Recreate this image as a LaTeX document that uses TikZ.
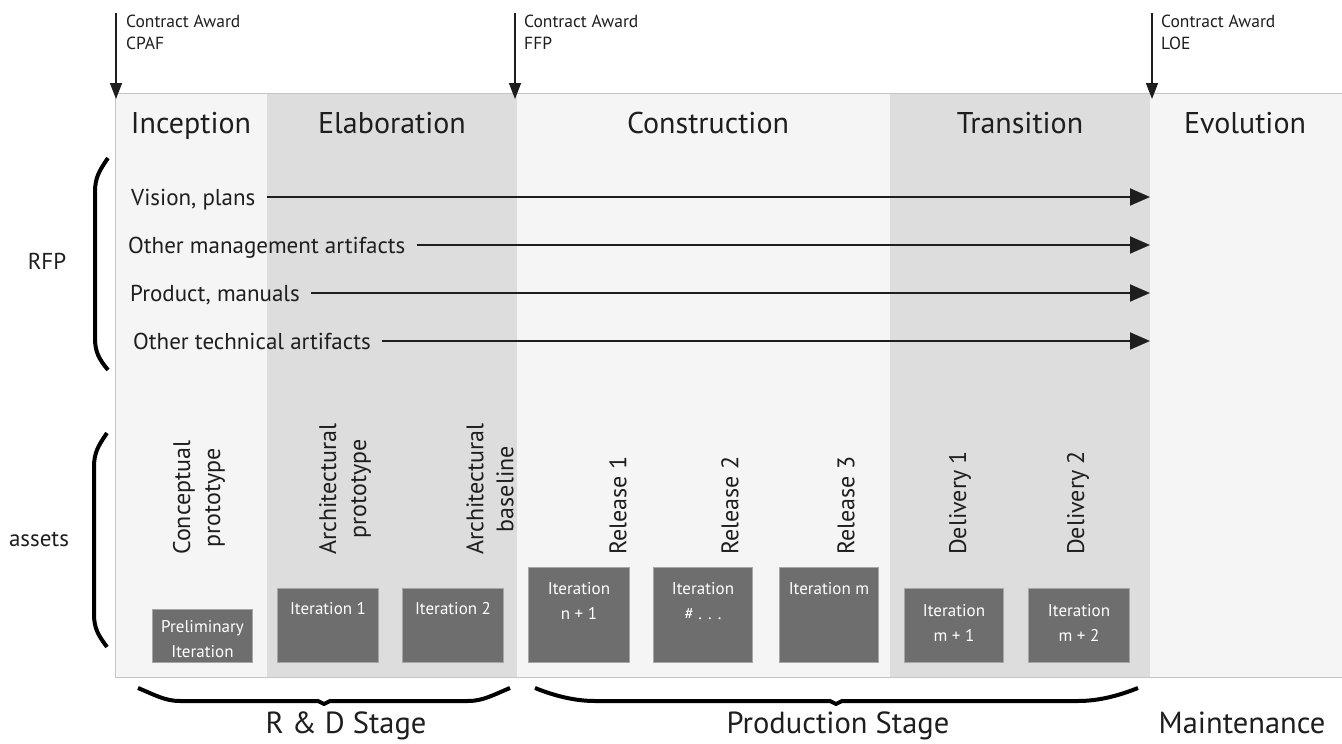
\documentclass[tikz,border=0pt]{standalone}
\usepackage{fontspec}
\setmainfont{PT Sans}
\usetikzlibrary{arrows.meta}

\definecolor{phaselight}{HTML}{F5F5F5}
\definecolor{phasedark}{HTML}{DCDDDC}
\definecolor{iterfill}{HTML}{6E6E6E}
\definecolor{iterline}{HTML}{A6A6A6}
\definecolor{rulegray}{HTML}{C4C4C4}
\definecolor{ink}{HTML}{1E1E1E}

\newcommand\fsz[2]{\fontsize{#1}{#2}\selectfont}

\tikzset{
  phasetitle/.style={anchor=base, inner sep=0pt, text=ink, font=\fsz{30}{34}},
  awardlbl/.style={anchor=north west, inner sep=0pt, align=left, text=ink, font=\fsz{17.5}{22}},
  awardarrow/.style={draw=ink, line width=1.5pt, -{Triangle[length=16pt,width=12pt]}},
  artlbl/.style={anchor=base west, inner sep=0pt, text=ink, font=\fsz{23}{27}},
  artarrow/.style={draw=ink, line width=2pt, -{Triangle[length=20pt,width=17pt]}},
  sidelbl/.style={inner sep=0pt, text=ink, font=\fsz{23}{27}},
  bracepen/.style={draw=black, line width=4pt, line cap=butt, line join=round},
  vlabel/.style={rotate=90, anchor=west, inner sep=0pt, align=center, text=ink, font=\fsz{24}{30}},
  itbox/.style={anchor=north west, fill=iterfill, draw=iterline, line width=1pt, inner sep=0pt},
  ittext/.style={anchor=north, inner sep=0pt, align=center, text=white, font=\fsz{17}{25}},
  stagelbl/.style={anchor=base, inner sep=0pt, text=ink, font=\fsz{30.5}{35}},
}

\begin{document}
\begin{tikzpicture}[x=1pt, y=-1pt]
\useasboundingbox (0,0) rectangle (1342,744);
\fill[white] (0,0) rectangle (1342,744);

% phase columns
\fill[phaselight] (115,93) rectangle (267,677);
\fill[phasedark]  (267,93) rectangle (517,677);
\fill[phaselight] (517,93) rectangle (890,677);
\fill[phasedark]  (890,93) rectangle (1150,677);
\fill[phaselight] (1150,93) rectangle (1342,677);
\draw[rulegray, line width=1pt] (1342,93) -- (115,93) -- (115,677) -- (1342,677);

% phase titles
\node[phasetitle] (inception)    at (191,133)  {Inception};
\node[phasetitle] (elaboration)  at (392,133)  {Elaboration};
\node[phasetitle] (construction) at (708,133)  {Construction};
\node[phasetitle] (transition)   at (1020,133) {Transition};
\node[phasetitle] (evolution)    at (1245,133) {Evolution};

% contract awards
\node[awardlbl] (awcpaf) at (126,15)  {Contract Award\\CPAF};
\node[awardlbl] (awffp)  at (524,15)  {Contract Award\\FFP};
\node[awardlbl] (awloe)  at (1161,15) {Contract Award\\LOE};
\coordinate (cpaftop) at (116,13);  \coordinate (cpaftip) at (116,99);
\coordinate (ffptop)  at (515,13);  \coordinate (ffptip)  at (515,99);
\coordinate (loetop)  at (1152,13); \coordinate (loetip)  at (1152,99);
\draw[awardarrow] (cpaftop) -- (cpaftip);
\draw[awardarrow] (ffptop) -- (ffptip);
\draw[awardarrow] (loetop) -- (loetip);

% artifact sets flowing through the life cycle
\node[artlbl] (vision)  at (131,205) {Vision, plans};
\node[artlbl] (mgmt)    at (128,253) {Other management artifacts};
\node[artlbl] (product) at (130,301) {Product, manuals};
\node[artlbl] (tech)    at (133,349) {Other technical artifacts};
\coordinate (visionend)  at (1150,197);
\coordinate (mgmtend)    at (1150,245);
\coordinate (productend) at (1150,293);
\coordinate (techend)    at (1150,341);
\draw[artarrow] (vision.east |- visionend)   ++(11,0) -- (visionend);
\draw[artarrow] (mgmt.east |- mgmtend)       ++(11,0) -- (mgmtend);
\draw[artarrow] (product.east |- productend) ++(11,0) -- (productend);
\draw[artarrow] (tech.east |- techend)       ++(11,0) -- (techend);

% side labels and brackets
\node[sidelbl] (rfp)    at (47,261) {RFP};
\node[sidelbl] (assets) at (39,539) {assets};
\draw[bracepen] (108,158) .. controls (99,171) and (95,178) .. (95,192)
  -- (95,338) .. controls (95,352) and (99,359) .. (108,370);
\draw[bracepen] (107,433) .. controls (98,446) and (94,453) .. (94,467)
  -- (94,614) .. controls (94,628) and (98,635) .. (107,647);

% milestone labels
\node[vlabel] (concept)  at (199,555) {Conceptual\\prototype};
\node[vlabel] (archproto) at (345,555) {Architectural\\prototype};
\node[vlabel] (archbase) at (490,555) {Architectural\\baseline};
\node[vlabel] (rel1) at (618,555)  {Release 1};
\node[vlabel] (rel2) at (730,555)  {Release 2};
\node[vlabel] (rel3) at (846,555)  {Release 3};
\node[vlabel] (del1) at (960,555)  {Delivery 1};
\node[vlabel] (del2) at (1078,555) {Delivery 2};

% iterations
\node[itbox, minimum width=100pt, minimum height=53pt] (itpre) at (152,609) {};
\node[itbox, minimum width=101pt, minimum height=74pt] (it1)   at (277,588) {};
\node[itbox, minimum width=101pt, minimum height=74pt] (it2)   at (402,588) {};
\node[itbox, minimum width=101pt, minimum height=95pt] (itn1)  at (528,567) {};
\node[itbox, minimum width=99pt,  minimum height=95pt] (itdots) at (653,567) {};
\node[itbox, minimum width=99pt,  minimum height=95pt] (itm)   at (779,567) {};
\node[itbox, minimum width=99pt,  minimum height=74pt] (itm1)  at (904,588) {};
\node[itbox, minimum width=101pt, minimum height=74pt] (itm2)  at (1028,588) {};

\node[ittext] (itpret)   at ([yshift=-11pt]itpre.north)  {Preliminary\\Iteration};
\node[ittext] (it1t)     at ([yshift=-14pt]it1.north)    {Iteration 1};
\node[ittext] (it2t)     at ([yshift=-14pt]it2.north)    {Iteration 2};
\node[ittext] (itn1t)    at ([yshift=-15pt]itn1.north)   {Iteration\\n + 1};
\node[ittext] (itdotst)  at ([yshift=-15pt]itdots.north) {Iteration\\\# . . .};
\node[ittext] (itmt)     at ([yshift=-15pt]itm.north)    {Iteration m};
\node[ittext] (itm1t)    at ([yshift=-16pt]itm1.north)   {Iteration\\m + 1};
\node[ittext] (itm2t)    at ([yshift=-16pt]itm2.north)   {Iteration\\m + 2};

% stages
\draw[bracepen] (138,688) .. controls (155,695) and (165,701) .. (180,701)
  -- (318,701) -- (324,704) -- (330,701) -- (468,701)
  .. controls (483,701) and (493,695) .. (510,688);
\draw[bracepen] (535,688) .. controls (555,696) and (575,701) .. (595,701)
  -- (830,701) -- (836,704) -- (842,701) -- (1078,701)
  .. controls (1098,701) and (1118,696) .. (1138,688);
\node[stagelbl] (rdstage)   at (346,733)  {R \& D Stage};
\node[stagelbl] (prodstage) at (838,733)  {Production Stage};
\node[stagelbl] (maint)     at (1242,733) {Maintenance};
\end{tikzpicture}
\end{document}
